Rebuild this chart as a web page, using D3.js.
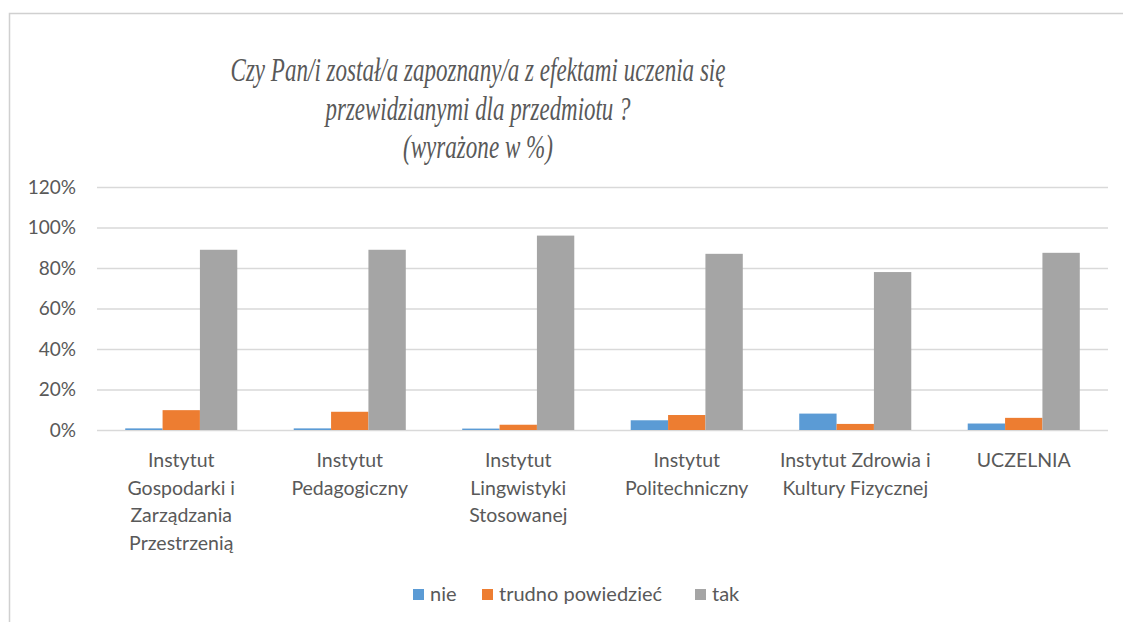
<!DOCTYPE html>
<html>
<head>
<meta charset="utf-8">
<script src="https://cdn.jsdelivr.net/npm/d3@7"></script>
<style>
  body { margin: 0; background: #fff; overflow: hidden; }
  svg { display: block; }
</style>
</head>
<body>
<svg id="chart" width="1123" height="622"></svg>
<script>
// data (values in %)
var titleLines = ["Czy Pan/i został/a zapoznany/a z efektami uczenia się", "przewidzianymi dla przedmiotu ?", "(wyrażone w %)"];
var categories = [
    ["Instytut", "Gospodarki i", "Zarządzania", "Przestrzenią"],
    ["Instytut", "Pedagogiczny"],
    ["Instytut", "Lingwistyki", "Stosowanej"],
    ["Instytut", "Politechniczny"],
    ["Instytut Zdrowia i", "Kultury Fizycznej"],
    ["UCZELNIA"]
];
var seriesNames = ["nie", "trudno powiedzieć", "tak"];
var nie = [0.8, 0.8, 0.7, 4.8, 8.1, 3.2];
var trudno = [9.8, 9.0, 2.6, 7.4, 3.0, 6.0];
var tak = [89.0, 89.0, 96.0, 87.0, 78.0, 87.5];
var yTicks = [0, 20, 40, 60, 80, 100, 120];
var colors = ["#5B9BD5", "#ED7D31", "#A5A5A5"];

var series = [nie, trudno, tak];
var svg = d3.select("#chart");
var textColor = "#595959";

// frame of the chart area (only top and left edges are in view)
svg.append("path")
    .attr("d", "M9.5,622V13.5H1123")
    .attr("fill", "none")
    .attr("stroke", "#d0d0d0")
    .attr("stroke-width", 1.5);

// title, serif italic, squeezed like the original
var titleWidths = [495, 305, 150];
var titleBase = [81, 120, 158];
titleLines.forEach(function(t, i) {
    svg.append("text")
        .attr("x", 478).attr("y", titleBase[i])
        .attr("text-anchor", "middle")
        .attr("font-family", "Liberation Serif")
        .attr("font-style", "italic")
        .attr("font-size", 33)
        .attr("fill", textColor)
        .attr("textLength", titleWidths[i])
        .attr("lengthAdjust", "spacingAndGlyphs")
        .text(t);
});

var x0 = d3.scaleBand()
    .domain(d3.range(categories.length))
    .range([97, 1108])
    .paddingInner(0.335)
    .paddingOuter(0.1675);

var x1 = d3.scaleBand()
    .domain(d3.range(series.length))
    .range([0, x0.bandwidth()]);

var y = d3.scaleLinear().domain([0, 120]).range([430, 187]);

// gridlines + y labels
var yAxis = d3.axisLeft(y)
    .tickValues(yTicks)
    .tickSize(-(1108 - 97))
    .tickPadding(21)
    .tickFormat(function(d) { return d + "%"; });

var gy = svg.append("g")
    .attr("transform", "translate(97,0)")
    .call(yAxis);
gy.select(".domain").remove();
gy.selectAll(".tick line").attr("stroke", "#d9d9d9").attr("stroke-width", 1.3);
gy.selectAll(".tick text")
    .attr("font-family", "Lato")
    .attr("font-size", 19)
    .attr("fill", textColor);

// bars
var groups = svg.append("g").selectAll("g")
    .data(categories)
    .enter().append("g")
    .attr("transform", function(d, i) { return "translate(" + x0(i) + ",0)"; });

groups.selectAll("rect")
    .data(function(d, i) { return series.map(function(s, k) { return { k: k, v: s[i] }; }); })
    .enter().append("rect")
    .attr("x", function(d) { return x1(d.k); })
    .attr("width", x1.bandwidth())
    .attr("y", function(d) { return y(d.v); })
    .attr("height", function(d) { return y(0) - y(d.v); })
    .attr("fill", function(d) { return colors[d.k]; });

// category labels
var labelG = svg.append("g");
categories.forEach(function(lines, i) {
    var t = labelG.append("text")
        .attr("text-anchor", "middle")
        .attr("font-family", "Lato")
        .attr("font-size", 19.5)
        .attr("fill", textColor);
    lines.forEach(function(line, j) {
        t.append("tspan")
            .attr("x", x0(i) + x0.bandwidth() / 2)
            .attr("y", 467 + j * 27.5)
            .text(line);
    });
});

// legend
var legendX = [413, 482, 695];
var legend = svg.append("g");
seriesNames.forEach(function(name, k) {
    legend.append("rect")
        .attr("x", legendX[k]).attr("y", 589)
        .attr("width", 11).attr("height", 11)
        .attr("fill", colors[k]);
    legend.append("text")
        .attr("x", legendX[k] + 17).attr("y", 601)
        .attr("font-family", "Lato")
        .attr("font-size", 20)
        .attr("fill", textColor)
        .text(name);
});
</script>
</body>
</html>
